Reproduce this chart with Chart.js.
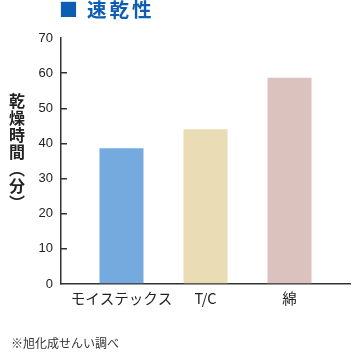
<!DOCTYPE html>
<html><head><meta charset="utf-8">
<script src="https://cdn.jsdelivr.net/npm/chart.js@4"></script>
<style>
html,body{margin:0;padding:0;background:#fff;}
#wrap{position:relative;width:354px;height:354px;overflow:hidden;}
#c{position:absolute;left:0;top:0;}
#hdr{position:absolute;left:59px;top:-3px;font-family:"Noto Sans CJK JP",sans-serif;font-weight:bold;font-size:19.5px;color:#0d5db2;letter-spacing:3px;white-space:nowrap;line-height:24px;}
#hdr .sq{font-size:19px;letter-spacing:9px;}
#ytitle{position:absolute;left:8px;top:93px;writing-mode:vertical-rl;font-family:"Noto Sans CJK JP",sans-serif;font-weight:bold;font-size:16px;line-height:18px;color:#222;letter-spacing:1px;}
#note{position:absolute;left:11px;top:334px;font-family:"Noto Sans CJK JP",sans-serif;font-size:12px;color:#333;line-height:18px;}
</style></head>
<body><div id="wrap">
<canvas id="c" width="354" height="354"></canvas>
<div id="hdr"><span class="sq">■</span>速乾性</div>
<div id="ytitle">乾燥時間（分）</div>
<div id="note">※旭化成せんい調べ</div>
</div>
<script>
const categories = ["モイステックス", "T/C", "綿"];
const dryingMinutes = [38.6, 44.0, 58.7];
const barColors = ["#75aadf", "#eadcb5", "#dcc2be"];
const yTicks = [0, 10, 20, 30, 40, 50, 60, 70];

const points = dryingMinutes.map((v, i) => ({x: i, y: v}));

new Chart(document.getElementById('c'), {
  type: 'bar',
  data: {
    datasets: [{
      data: points,
      backgroundColor: barColors,
      borderWidth: 0,
      barPercentage: 0.524,
      categoryPercentage: 1
    }]
  },
  options: {
    responsive: false,
    animation: false,
    devicePixelRatio: 1,
    layout: {padding: {left: 0, right: 4, top: 38, bottom: 0}},
    plugins: {legend: {display: false}, tooltip: {enabled: false}, title: {display: false}},
    scales: {
      x: {
        type: 'linear',
        offset: false,
        min: -0.72,
        max: 2.72,
        afterFit: s => { s.height = 70; },
        afterBuildTicks: s => { s.ticks = categories.map((c, i) => ({value: i})); },
        grid: {display: false, drawTicks: false, offset: false},
        border: {display: true, color: '#333', width: 1.5},
        ticks: {
          autoSkip: false, maxRotation: 0, padding: 6,
          callback: v => categories[v] ?? '',
          color: '#222',
          font: {family: '"Noto Sans CJK JP", sans-serif', size: 14.5}
        }
      },
      y: {
        min: 0, max: 70,
        afterFit: s => { s.width = 61; },
        afterBuildTicks: s => { s.ticks = yTicks.map(v => ({value: v})); },
        grid: {
          drawOnChartArea: false, drawTicks: true, tickLength: -6, lineWidth: 1.5,
          color: ctx => (ctx.tick && (ctx.tick.value === 0 || ctx.tick.value === 70)) ? 'rgba(0,0,0,0)' : '#333'
        },
        border: {display: true, color: '#333', width: 1.5},
        ticks: {
          padding: 14,
          color: '#222',
          font: {family: '"Liberation Sans", Arial, sans-serif', size: 13}
        }
      }
    }
  }
});
</script>
</body></html>
